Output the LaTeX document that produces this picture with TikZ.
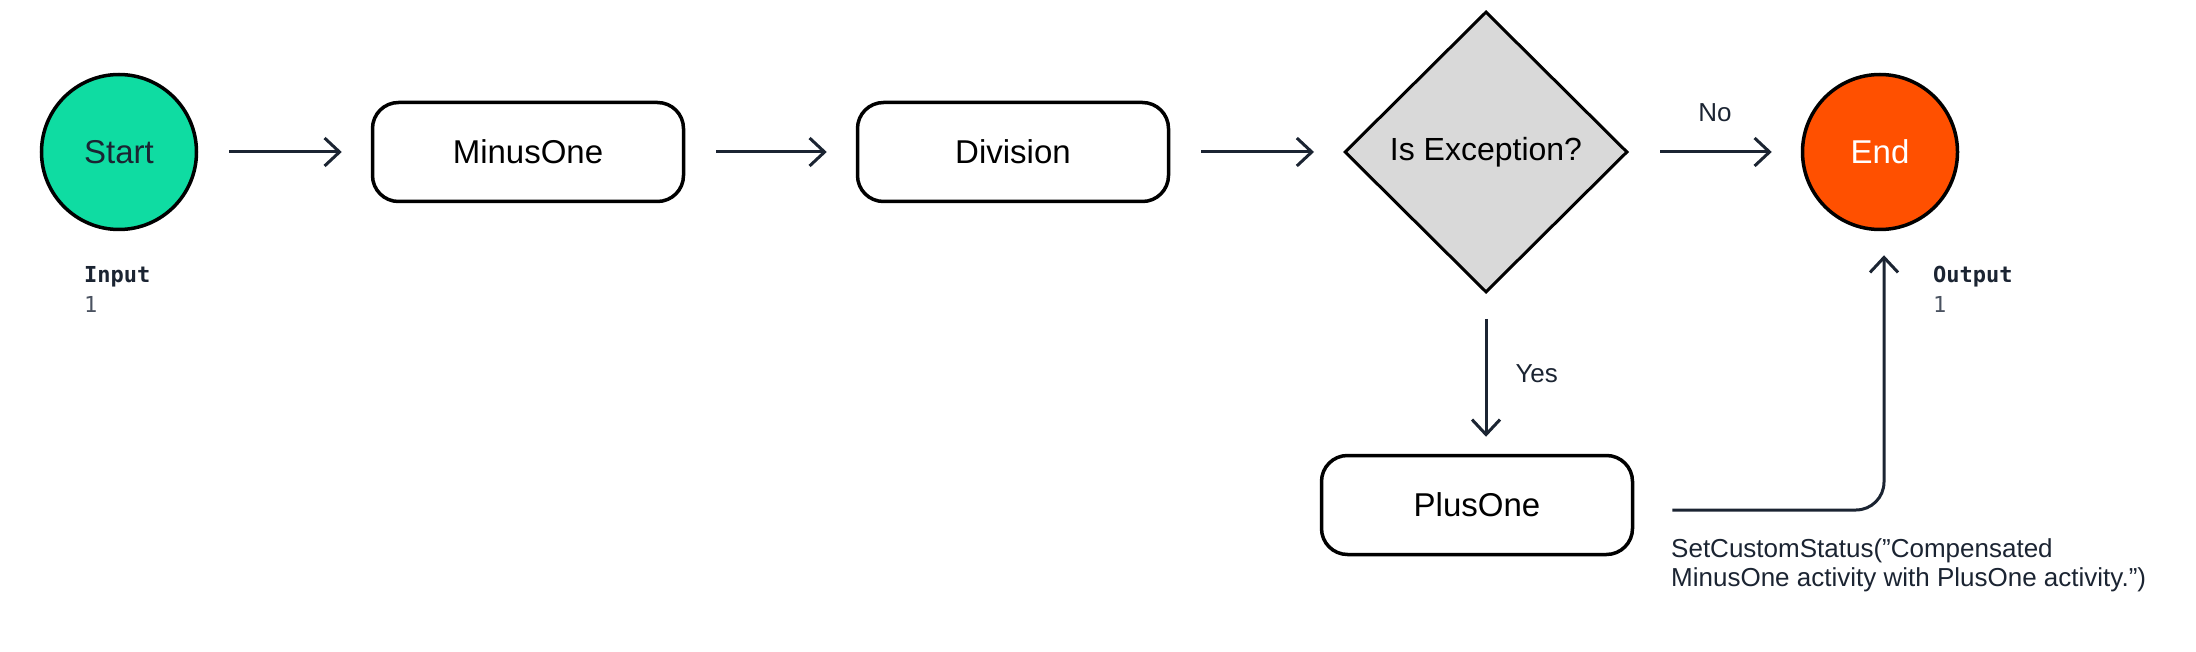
\documentclass[tikz,border=0pt]{standalone}
\usepackage{fontspec}
\setmainfont{Liberation Sans}
\setmonofont{DejaVu Sans Mono}
\usepackage{tikz}
\usetikzlibrary{shapes.geometric, arrows.meta}

\definecolor{startgreen}{HTML}{0FDCA2}
\definecolor{endorange}{HTML}{FF5000}
\definecolor{decgray}{HTML}{D9D9D9}
\definecolor{inkblue}{HTML}{1B2432}
\definecolor{inkgray}{HTML}{4A5260}

\begin{document}
\begin{tikzpicture}[x=1pt, y=-1pt,
  stepbox/.style={rectangle, draw=black, line width=3.5pt, rounded corners=26pt,
                  minimum width=311pt, minimum height=99pt, text=black,
                  font=\fontsize{33}{39}\selectfont},
  terminal/.style={circle, draw=black, line width=3.5pt, minimum size=155pt,
                   font=\fontsize{33}{39}\selectfont},
  decision/.style={diamond, draw=black, line width=3pt, fill=decgray, inner sep=2pt,
                   minimum width=283pt, minimum height=281pt, text=black,
                   font=\fontsize{32}{38}\selectfont},
  iolabel/.style={align=left, inner sep=0pt, text=inkblue,
                  font=\ttfamily\fontsize{22}{30}\selectfont},
  note/.style={inner sep=0pt, text=inkblue, font=\fontsize{26}{29.5}\selectfont},
  arrow/.style={-{Straight Barb[length=15pt, width=28pt]}, line width=3pt, draw=inkblue,
                shorten <=31pt, shorten >=29pt}
]
\useasboundingbox (0,0) rectangle (2196,652);

%% Main row
\node[terminal, fill=startgreen, text=inkblue] at (119,152) (start) {Start};
\node[stepbox] at (528,152) (minus) {MinusOne};
\node[stepbox] at (1013,152) (division) {Division};
\node[decision] at (1486,152) (except) {Is Exception?};
\node[terminal, fill=endorange, text=white] at (1880,152) (end) {End};

%% Compensation
\node[stepbox] at (1477,505) (plus) {PlusOne};

%% Arrows
\draw[arrow] (start) -- (minus);
\draw[arrow] (minus) -- (division);
\draw[arrow] (division) -- (except);
\draw[arrow] (except) -- node[note, above=29pt] (nolbl) {No} (end);
\draw[arrow, shorten <=25pt, shorten >=17pt] (except.south) -- node[note, right=28pt] (yeslbl) {Yes} (except.south |- plus.north);
\draw[arrow, rounded corners=28pt, shorten <=38pt, shorten >=24pt]
  ([yshift=-5pt]plus.east) -| ([xshift=4pt]end.south);

%% Labels
\node[iolabel, anchor=north west] at (84,266) (inlbl) {\textbf{Input}\\\color{inkgray}1};
\node[iolabel, anchor=north west] at (1933,266) (outlbl) {\textbf{Output}\\\color{inkgray}1};
\node[note, align=left, anchor=north west] at (1671,538) (status)
  {SetCustomStatus(”Compensated\\MinusOne activity with PlusOne activity.”)};
\end{tikzpicture}
\end{document}
